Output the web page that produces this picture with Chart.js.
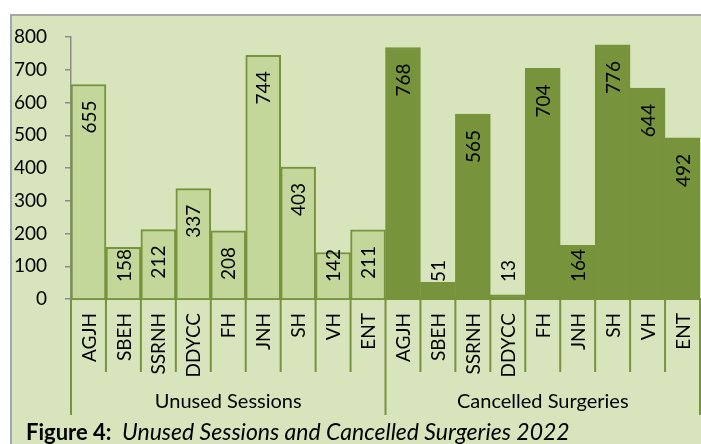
<!DOCTYPE html>
<html>
<head>
<meta charset="utf-8">
<script src="https://cdn.jsdelivr.net/npm/chart.js@4.4.1/dist/chart.umd.min.js"></script>
<style>
html,body{margin:0;padding:0;background:#fff;}
#wrap{position:absolute;left:0;top:0;width:701px;height:444px;}
</style>
</head>
<body>
<div id="wrap"><canvas id="c" width="701" height="444"></canvas></div>
<script>
// ---- data ----
const hospitals = ["AGJH","SBEH","SSRNH","DDYCC","FH","JNH","SH","VH","ENT"];
const groups = ["Unused Sessions","Cancelled Surgeries"];
const unusedSessions = [655,158,212,337,208,744,403,142,211];
const cancelledSurgeries = [768,51,565,13,704,164,776,644,492];
const yTicks = [0,100,200,300,400,500,600,700,800];
const captionBold = "Figure 4:";
const captionItalic = "Unused Sessions and Cancelled Surgeries 2022";

const labels = hospitals.concat(hospitals);
const values = unusedSessions.concat(cancelledSurgeries);
const LIGHT = "#C4D79B", DARK = "#77933C", BG = "#D8E4BC", FRAME = "#A6A6A6", AXIS = "#8C8C8C";
const fills = unusedSessions.map(()=>LIGHT).concat(cancelledSurgeries.map(()=>DARK));
const FONT = "Lato";

const framePlugin = {
  id: "frame",
  beforeDraw(chart) {
    const ctx = chart.ctx;
    ctx.save();
    ctx.fillStyle = "#fff";
    ctx.fillRect(0,0,chart.width,chart.height);
    ctx.fillStyle = BG;
    ctx.fillRect(10,14,chart.width-10,chart.height-14);
    ctx.strokeStyle = FRAME;
    ctx.lineWidth = 2;
    ctx.beginPath();
    ctx.moveTo(11,444); ctx.lineTo(11,15); ctx.lineTo(701,15);
    ctx.stroke();
    ctx.restore();
  }
};

const labelsPlugin = {
  id: "extras",
  afterDatasetsDraw(chart) {
    const ctx = chart.ctx;
    const meta = chart.getDatasetMeta(0);
    const area = chart.chartArea;
    const xs = chart.scales.x;
    ctx.save();
    ctx.font = "19px " + FONT;
    ctx.fillStyle = "#000";
    ctx.textAlign = "right";
    ctx.textBaseline = "middle";
    // value labels inside bars
    meta.data.forEach((bar, i) => {
      const txt = String(values[i]);
      const w = ctx.measureText(txt).width;
      let top = bar.y + 16;
      if (top + w > 282) top = 282 - w;
      ctx.save();
      ctx.translate(bar.x + 1, top);
      ctx.rotate(-Math.PI/2);
      ctx.fillText(txt, 0, 0);
      ctx.restore();
    });
    // category labels
    labels.forEach((lab, i) => {
      const x = xs.getPixelForValue(i);
      ctx.save();
      ctx.translate(x + 1, 313);
      ctx.rotate(-Math.PI/2);
      ctx.fillText(lab, 0, 0);
      ctx.restore();
    });
    // separators
    const n = labels.length;
    const step = (area.right - area.left) / n;
    ctx.strokeStyle = DARK;
    ctx.lineWidth = 2;
    for (let k = 0; k <= n; k++) {
      const x = area.left + k*step;
      const isGroup = (k % hospitals.length === 0);
      ctx.beginPath();
      ctx.moveTo(x, area.bottom);
      ctx.lineTo(x, isGroup ? 415 : 372);
      ctx.stroke();
    }
    // group labels
    ctx.textAlign = "center";
    ctx.font = "20px " + FONT;
    groups.forEach((g, gi) => {
      const x0 = area.left + gi*hospitals.length*step;
      const x1 = x0 + hospitals.length*step;
      ctx.fillText(g, (x0+x1)/2, 402);
    });
    // caption
    ctx.textAlign = "left";
    ctx.textBaseline = "alphabetic";
    ctx.font = "bold 22px " + FONT;
    ctx.fillText(captionBold, 26, 440);
    ctx.font = "italic 23px " + FONT;
    ctx.fillText(captionItalic, 122, 440);
    ctx.restore();
  }
};

new Chart(document.getElementById("c"), {
  type: "bar",
  data: {
    labels: labels,
    datasets: [{
      data: values,
      backgroundColor: fills,
      borderColor: DARK,
      borderWidth: 2,
      categoryPercentage: 1.0,
      barPercentage: 1.0
    }]
  },
  options: {
    responsive: false,
    animation: false,
    devicePixelRatio: 1,
    layout: { padding: { top: 37, left: 0, right: 1, bottom: 0 } },
    plugins: { legend: { display: false }, tooltip: { enabled: false } },
    scales: {
      x: {
        grid: { display: false },
        border: { display: true, color: DARK, width: 2 },
        ticks: { display: false },
        afterFit(s) { s.height = 145; }
      },
      y: {
        min: 0, max: 800,
        afterBuildTicks(s) { s.ticks = yTicks.map(v => ({ value: v })); },
        grid: { drawOnChartArea: false, drawTicks: true, tickLength: 6, color: AXIS, lineWidth: 1.5 },
        border: { display: true, color: AXIS, width: 1.5 },
        ticks: { color: "#000", font: { family: FONT, size: 19 }, padding: 18 },
        afterFit(s) { s.width = 71; }
      }
    }
  },
  plugins: [framePlugin, labelsPlugin]
});
</script>
</body>
</html>
